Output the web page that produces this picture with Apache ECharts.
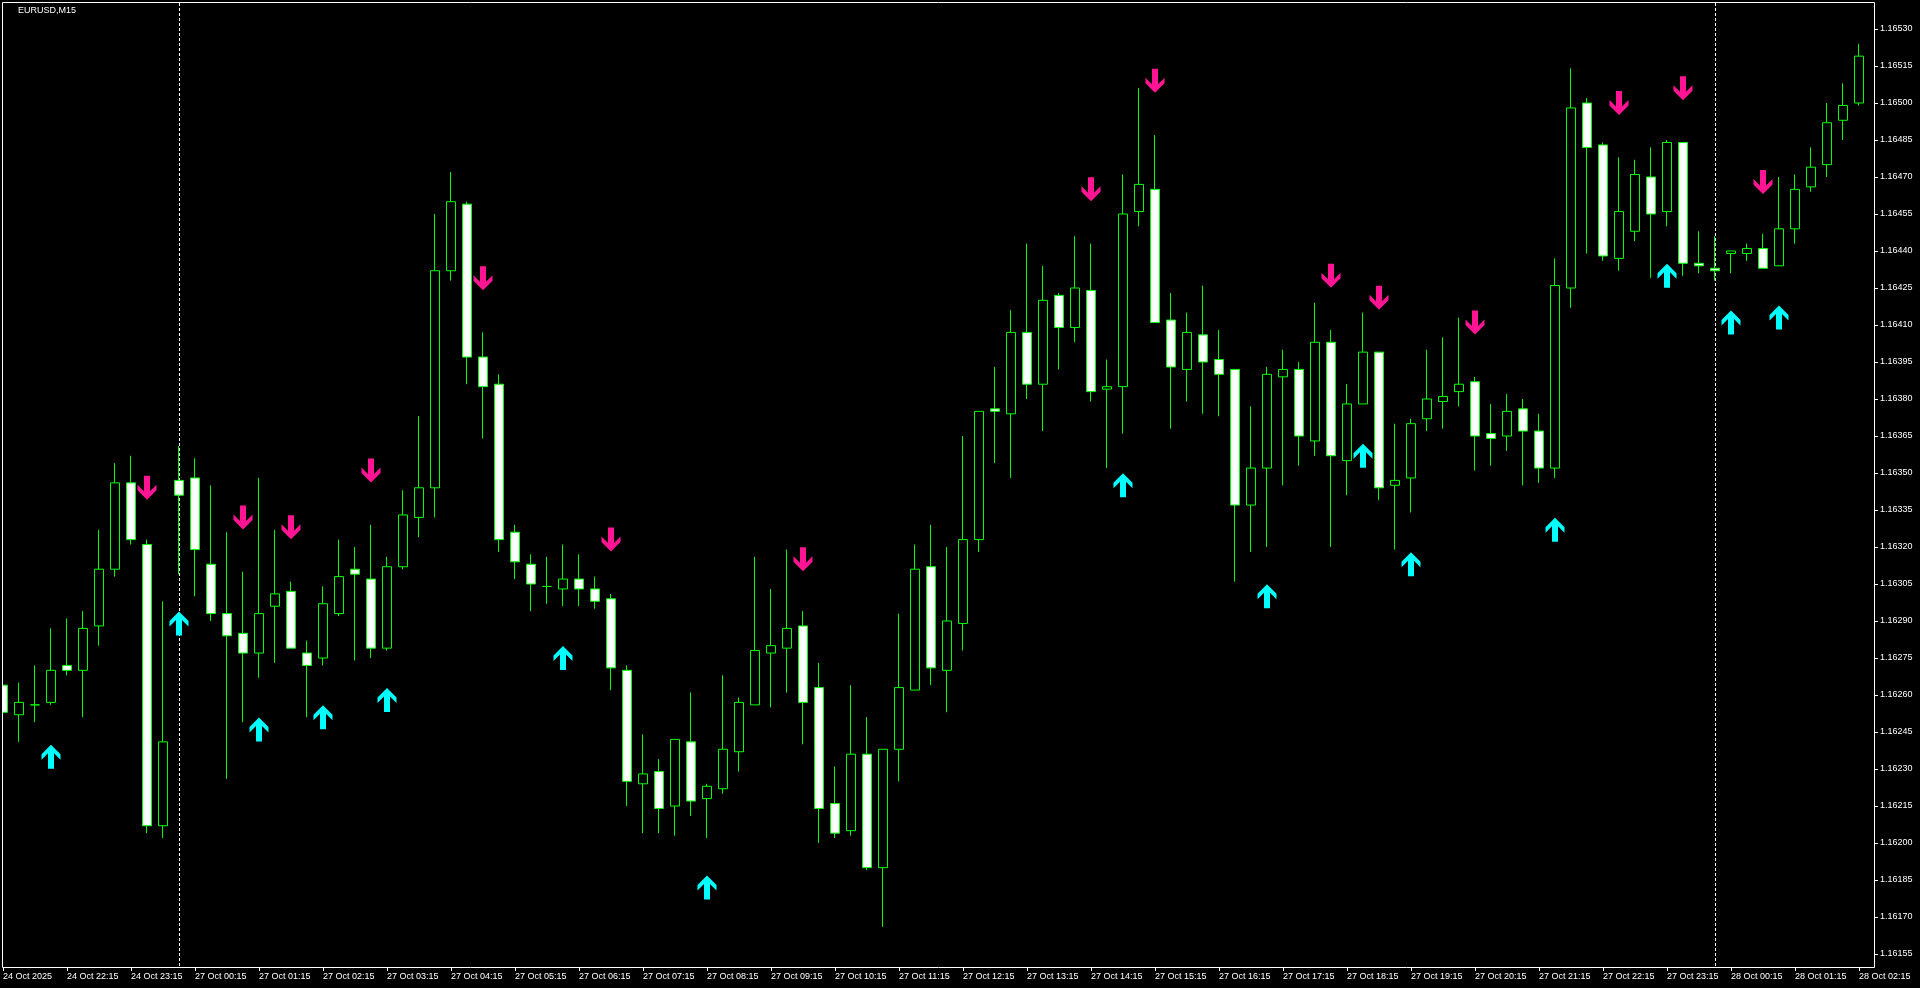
<!DOCTYPE html>
<html>
<head>
<meta charset="utf-8">
<script src="https://cdn.jsdelivr.net/npm/echarts/dist/echarts.min.js"></script>
<style>
html,body{margin:0;padding:0;background:#000;}
#chart{width:1920px;height:988px;}
</style>
</head>
<body>
<div id="chart"></div>
<script>
// ---------- DATA (EURUSD M15) ----------
const open = [1.16264,1.16252,1.16256,1.16257,1.16272,1.16270,1.16288,1.16311,1.16346,1.16321,
1.16207,1.16347,1.16348,1.16313,1.16293,1.16285,1.16277,1.16296,1.16302,1.16277,
1.16275,1.16293,1.16311,1.16307,1.16279,1.16312,1.16332,1.16344,1.16432,1.16459,
1.16397,1.16386,1.16326,1.16313,1.16304,1.16303,1.16307,1.16303,1.16299,1.16270,
1.16224,1.16229,1.16215,1.16241,1.16218,1.16222,1.16237,1.16256,1.16277,1.16279,
1.16288,1.16263,1.16216,1.16205,1.16236,1.16190,1.16238,1.16262,1.16312,1.16270,
1.16289,1.16323,1.16376,1.16374,1.16407,1.16386,1.16422,1.16409,1.16424,1.16384,
1.16385,1.16456,1.16465,1.16412,1.16392,1.16406,1.16396,1.16392,1.16337,1.16352,
1.16389,1.16392,1.16363,1.16403,1.16355,1.16378,1.16399,1.16345,1.16348,1.16372,
1.16379,1.16383,1.16387,1.16366,1.16365,1.16376,1.16367,1.16352,1.16425,1.16500,
1.16483,1.16437,1.16448,1.16470,1.16456,1.16484,1.16435,1.16433,1.16439,1.16439,
1.16441,1.16434,1.16449,1.16466,1.16475,1.16493,1.16500];

const high = [1.16269,1.16265,1.16272,1.16287,1.16291,1.16294,1.16327,1.16354,1.16357,1.16323,
1.16298,1.16361,1.16356,1.16345,1.16326,1.16310,1.16348,1.16327,1.16306,1.16282,
1.16304,1.16323,1.16320,1.16329,1.16316,1.16343,1.16373,1.16455,1.16472,1.16460,
1.16407,1.16390,1.16329,1.16317,1.16316,1.16321,1.16317,1.16308,1.16301,1.16272,
1.16244,1.16234,1.16242,1.16261,1.16224,1.16268,1.16259,1.16316,1.16303,1.16319,
1.16294,1.16273,1.16231,1.16264,1.16251,1.16238,1.16293,1.16321,1.16329,1.16320,
1.16365,1.16375,1.16393,1.16416,1.16443,1.16434,1.16423,1.16446,1.16443,1.16396,
1.16471,1.16506,1.16487,1.16423,1.16415,1.16426,1.16408,1.16392,1.16377,1.16393,
1.16400,1.16395,1.16419,1.16408,1.16386,1.16415,1.16399,1.16370,1.16372,1.16400,
1.16405,1.16413,1.16389,1.16378,1.16382,1.16380,1.16374,1.16437,1.16514,1.16502,
1.16484,1.16478,1.16477,1.16482,1.16485,1.16484,1.16448,1.16446,1.16440,1.16443,
1.16447,1.16470,1.16471,1.16482,1.16500,1.16508,1.16524];

const low = [1.16246,1.16241,1.16249,1.16256,1.16268,1.16251,1.16280,1.16308,1.16321,1.16204,
1.16202,1.16309,1.16300,1.16290,1.16226,1.16249,1.16267,1.16273,1.16279,1.16251,
1.16272,1.16292,1.16274,1.16275,1.16278,1.16311,1.16324,1.16332,1.16428,1.16386,
1.16364,1.16318,1.16307,1.16294,1.16297,1.16296,1.16296,1.16295,1.16262,1.16215,
1.16204,1.16204,1.16203,1.16211,1.16202,1.16220,1.16229,1.16256,1.16255,1.16261,
1.16240,1.16200,1.16202,1.16203,1.16189,1.16166,1.16225,1.16262,1.16264,1.16253,
1.16278,1.16318,1.16354,1.16348,1.16380,1.16367,1.16392,1.16403,1.16379,1.16352,
1.16366,1.16450,1.16411,1.16368,1.16379,1.16374,1.16373,1.16306,1.16318,1.16320,
1.16345,1.16353,1.16357,1.16320,1.16341,1.16378,1.16339,1.16319,1.16334,1.16367,
1.16368,1.16377,1.16351,1.16353,1.16359,1.16345,1.16346,1.16348,1.16417,1.16439,
1.16436,1.16432,1.16444,1.16429,1.16450,1.16430,1.16431,1.16428,1.16431,1.16436,
1.16433,1.16434,1.16443,1.16464,1.16470,1.16485,1.16499];

const close = [1.16253,1.16257,1.16256,1.16270,1.16270,1.16287,1.16311,1.16346,1.16323,1.16207,
1.16241,1.16341,1.16319,1.16293,1.16284,1.16277,1.16293,1.16301,1.16279,1.16272,
1.16297,1.16308,1.16309,1.16279,1.16312,1.16333,1.16344,1.16432,1.16460,1.16397,
1.16385,1.16323,1.16314,1.16305,1.16304,1.16307,1.16303,1.16298,1.16271,1.16225,
1.16228,1.16214,1.16242,1.16217,1.16223,1.16238,1.16257,1.16278,1.16280,1.16287,
1.16257,1.16214,1.16204,1.16236,1.16190,1.16238,1.16263,1.16311,1.16271,1.16290,
1.16323,1.16375,1.16375,1.16407,1.16386,1.16420,1.16409,1.16425,1.16383,1.16385,
1.16455,1.16467,1.16411,1.16393,1.16407,1.16395,1.16390,1.16337,1.16352,1.16390,
1.16392,1.16365,1.16403,1.16357,1.16378,1.16399,1.16344,1.16347,1.16370,1.16380,
1.16381,1.16386,1.16365,1.16364,1.16375,1.16367,1.16352,1.16426,1.16498,1.16482,
1.16438,1.16456,1.16471,1.16455,1.16484,1.16435,1.16434,1.16432,1.16440,1.16441,
1.16433,1.16449,1.16465,1.16474,1.16492,1.16499,1.16519];

// signal arrows: bar index and price of the arrow centre
const upArrowBars   = [3, 11, 16, 20, 24, 35, 44, 55, 70, 79, 85, 88, 97, 104, 108, 111];
const upArrowPrice  = [1.16235,1.16289,1.16246,1.16251,1.16258,1.16275,1.16182,1.16146,1.16345,1.16300,1.16357,1.16313,1.16327,1.16430,1.16411,1.16413];
const downArrowBars  = [9, 15, 18, 23, 30, 38, 50, 68, 72, 83, 86, 92, 101, 105, 110];
const downArrowPrice = [1.16344,1.16332,1.16328,1.16351,1.16429,1.16323,1.16315,1.16465,1.16509,1.16430,1.16421,1.16411,1.16500,1.16506,1.16468];

// day separators (bar index of first bar of a new day)
const separatorBars = [11, 107];

// tick labels
const xTickLabels = ['24 Oct 2025','24 Oct 22:15','24 Oct 23:15',
'27 Oct 00:15','27 Oct 01:15','27 Oct 02:15','27 Oct 03:15','27 Oct 04:15','27 Oct 05:15',
'27 Oct 06:15','27 Oct 07:15','27 Oct 08:15','27 Oct 09:15','27 Oct 10:15','27 Oct 11:15',
'27 Oct 12:15','27 Oct 13:15','27 Oct 14:15','27 Oct 15:15','27 Oct 16:15','27 Oct 17:15',
'27 Oct 18:15','27 Oct 19:15','27 Oct 20:15','27 Oct 21:15','27 Oct 22:15','27 Oct 23:15',
'28 Oct 00:15','28 Oct 01:15','28 Oct 02:15'];
const yTicks = [1.16155,1.16170,1.16185,1.16200,1.16215,1.16230,1.16245,1.16260,1.16275,1.16290,
1.16305,1.16320,1.16335,1.16350,1.16365,1.16380,1.16395,1.16410,1.16425,1.16440,
1.16455,1.16470,1.16485,1.16500,1.16515,1.16530];
const yMin = 1.1614973, yMax = 1.1654095;

// ---------- build ----------
const pad = n => (n < 10 ? '0' : '') + n;
const categories = [];
for (let i = 0; i < open.length; i++) {
  let day, mins;
  if (i < 11) { day = '24 Oct'; mins = 21 * 60 + 15 + i * 15; }
  else { const m = (i - 11) * 15; day = m >= 1440 ? '28 Oct' : '27 Oct'; mins = m % 1440; }
  categories.push(day + ' ' + pad(Math.floor(mins / 60)) + ':' + pad(mins % 60));
}
const candles = open.map((o, i) => [o, close[i], low[i], high[i]]);
const upData = upArrowBars.map((b, i) => [b, upArrowPrice[i]]);
const downData = downArrowBars.map((b, i) => [b, downArrowPrice[i]]);
const sepData = separatorBars.map(b => [b, yMin]);

const FONT = 'Liberation Sans';
const upPath = 'path://M9.5,0 L19,9.5 L19,15 L12.5,8.5 L12.5,24 L6.5,24 L6.5,8.5 L0,15 L0,9.5 Z';
const downPath = 'path://M9.5,24 L19,14.5 L19,9 L12.5,15.5 L12.5,0 L6.5,0 L6.5,15.5 L0,9 L0,14.5 Z';

const chart = echarts.init(document.getElementById('chart'));
chart.setOption({
  backgroundColor: '#000000',
  animation: false,
  // first bar centre at x=3, last at x=1859, 16 px per bar; frame drawn at x=2..1874
  grid: { left: 3, right: 61, top: 2, bottom: 21, containLabel: false },
  xAxis: {
    type: 'category',
    data: categories,
    boundaryGap: false,
    axisLine: { show: false },
    axisTick: {
      show: true, length: 4,
      interval: (i) => i % 4 === 0,
      lineStyle: { color: '#ffffff', width: 1 }
    },
    axisLabel: {
      show: true,
      interval: (i) => i % 4 === 0,
      formatter: (v, i) => (i % 4 === 0 ? xTickLabels[i / 4] : ''),
      color: '#ffffff', fontSize: 9, fontFamily: FONT,
      align: 'left', margin: 5
    },
    splitLine: { show: false }
  },
  yAxis: {
    type: 'value',
    position: 'right',
    offset: 15,
    min: yMin, max: yMax,
    scale: true,
    axisLine: { show: false },
    axisTick: { show: true, customValues: yTicks, length: 4, lineStyle: { color: '#ffffff' } },
    axisLabel: {
      customValues: yTicks,
      formatter: v => v.toFixed(5),
      color: '#ffffff', fontSize: 9, fontFamily: FONT, margin: 6
    },
    splitLine: { show: false }
  },
  series: [
    {
      type: 'custom',
      z: 1,
      clip: false,
      data: sepData,
      encode: { x: 0, y: 1 },
      renderItem: (params, api) => {
        const p = api.coord([api.value(0), api.value(1)]);
        const cs = params.coordSys;
        const x = Math.round(p[0]) + 0.5;
        return {
          type: 'line',
          shape: { x1: x, y1: cs.y + 1, x2: x, y2: cs.y + cs.height },
          style: { stroke: '#ffffff', lineWidth: 1, lineDash: [3, 2] },
          silent: true
        };
      }
    },
    {
      type: 'candlestick',
      z: 2,
      clip: false,
      data: candles,
      barWidth: 10,
      itemStyle: {
        color: '#000000', color0: '#ffffff',
        borderColor: '#00ff00', borderColor0: '#00ff00', borderColorDoji: '#00ff00',
        borderWidth: 1
      },
      emphasis: { disabled: true }
    },
    {
      type: 'scatter', z: 3, data: upData, clip: true,
      symbol: upPath, symbolSize: [19, 24],
      itemStyle: { color: '#00ffff', opacity: 1 },
      emphasis: { disabled: true }
    },
    {
      type: 'scatter', z: 3, data: downData, clip: true,
      symbol: downPath, symbolSize: [19, 24],
      itemStyle: { color: '#ff1493', opacity: 1 },
      emphasis: { disabled: true }
    }
  ],
  graphic: [
    { type: 'rect', z: 90, silent: true, shape: { x: 0, y: 0, width: 2, height: 988 }, style: { fill: '#000000' } },
    { type: 'rect', z: 100, silent: true, shape: { x: 2.5, y: 2.5, width: 1872, height: 965 }, style: { fill: 'none', stroke: '#ffffff', lineWidth: 1 } },
    { type: 'text', z: 100, silent: true, left: 18, top: 6, style: { text: 'EURUSD,M15', fill: '#ffffff', font: '9px "Liberation Sans"' } }
  ]
});
</script>
</body>
</html>
